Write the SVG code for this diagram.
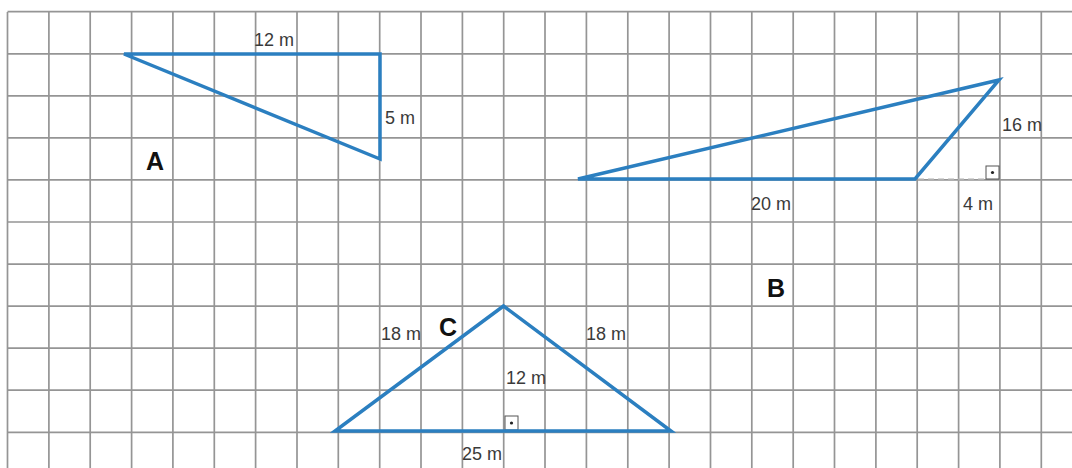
<svg xmlns="http://www.w3.org/2000/svg" width="1072" height="468" viewBox="0 0 1072 468">
<style>
.g{stroke:#959595;stroke-width:1.7;fill:none}
.tri{stroke:#2b7fc0;stroke-width:3.5;fill:none;stroke-linejoin:miter;stroke-linecap:round}
.lbl{font-family:"Liberation Sans",Arial,sans-serif;font-size:18px;fill:#3a3a3a}
.big{font-family:"Liberation Sans",Arial,sans-serif;font-size:25px;font-weight:bold;fill:#111}
.ra{stroke:#555;stroke-width:1;fill:#fff}
.dot{fill:#222}
.dash{stroke:#b0b0b0;stroke-width:2;stroke-dasharray:6 4;fill:none}
</style>
<rect width="1072" height="468" fill="#fff"/>
<g id="grid">
<path class="g" d="M7.5 12V468M48.9 12V468M90.2 12V468M131.6 12V468M172.9 12V468M214.3 12V468M255.6 12V468M297 12V468M338.3 12V468M379.7 12V468M421 12V468M462.4 12V468M503.7 12V468M545 12V468M586.4 12V468M627.8 12V468M669.1 12V468M710.5 12V468M751.8 12V468M793.2 12V468M834.5 12V468M875.9 12V468M917.2 12V468M958.6 12V468M999.9 12V468M1041.3 12V468"/>
<path class="g" d="M7.5 11.7H1072M7.5 53.8H1072M7.5 95.8H1072M7.5 137.9H1072M7.5 179.9H1072M7.5 222H1072M7.5 264.1H1072M7.5 306.1H1072M7.5 348.2H1072M7.5 390.2H1072M7.5 432.3H1072"/>
</g>
<g id="triangleA">
<path class="tri" d="M124 54H380V159Z"/>
<text class="lbl" x="254" y="46">12 m</text>
<text class="lbl" x="385" y="124">5 m</text>
<text class="big" x="146" y="170">A</text>
</g>
<g id="triangleB">
<path class="dash" d="M918 179.5H986"/>
<rect class="ra" x="986" y="166" width="13" height="13"/>
<circle class="dot" cx="992.5" cy="172.5" r="1.6"/>
<path class="tri" d="M578 179H915L999 80Z"/>
<text class="lbl" x="1002" y="131">16 m</text>
<text class="lbl" x="751" y="210">20 m</text>
<text class="lbl" x="963" y="210">4 m</text>
<text class="big" x="767" y="297">B</text>
</g>
<g id="triangleC">
<rect class="ra" x="505" y="416" width="13" height="14"/>
<circle class="dot" cx="511.5" cy="423" r="1.6"/>
<path class="tri" d="M335 431H671L503.5 306Z"/>
<text class="lbl" x="381" y="340">18 m</text>
<text class="lbl" x="586" y="340">18 m</text>
<text class="lbl" x="506" y="384">12 m</text>
<text class="lbl" x="462" y="460">25 m</text>
<text class="big" x="439" y="336">C</text>
</g>
<g id="connectors"/>
</svg>
